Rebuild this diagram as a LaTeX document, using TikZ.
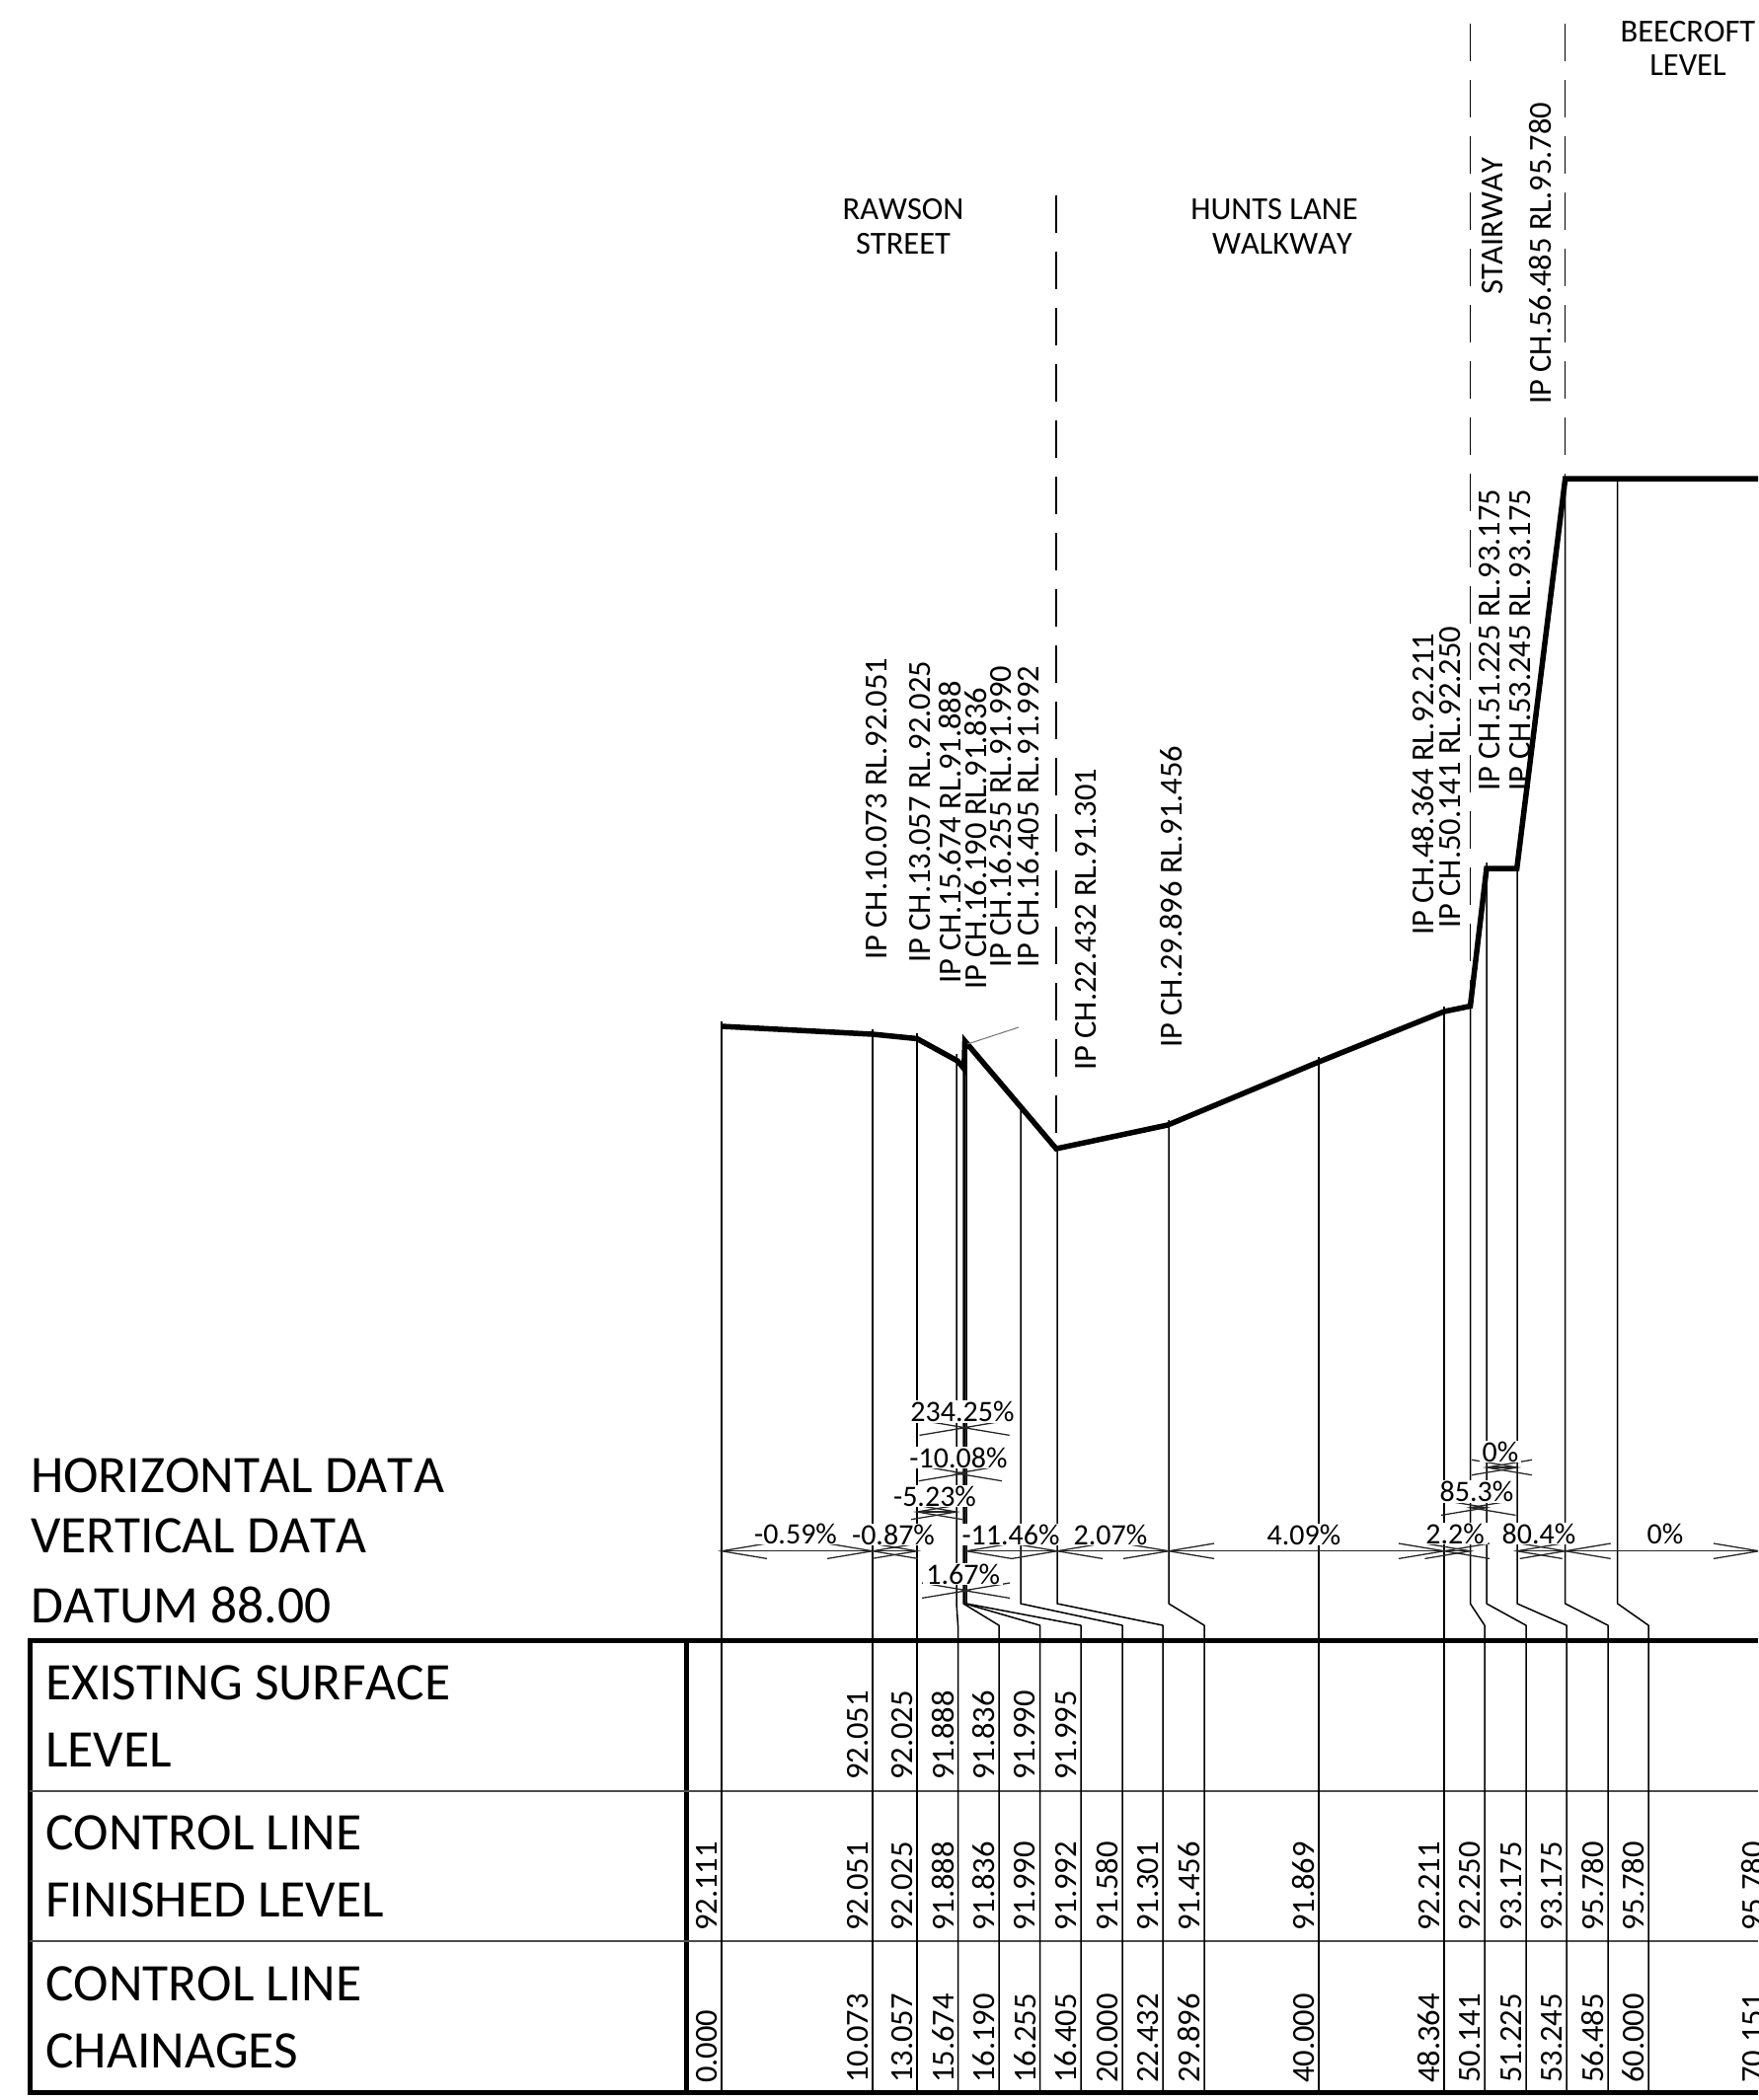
\documentclass[tikz,border=0pt]{standalone}
\usepackage{fontspec}
\setmainfont[Kerning=Off]{Carlito}
\tikzset{
	ipText/.style={rotate=90,anchor=west,inner sep=0pt,font=\fontsize{32.5}{36}\selectfont},
	bigText/.style={anchor=west,inner sep=0pt,font=\fontsize{53.5}{60}\selectfont},
	areaText/.style={inner sep=0pt,font=\fontsize{32.5}{36}\selectfont},
	gradeText/.style={fill=white,inner xsep=3pt,inner ysep=1pt,font=\fontsize{30}{34}\selectfont},
	setLine/.style={line width=1.5pt,line join=bevel},
	dimLine/.style={line width=1.3pt,black!85},
	heavyLine/.style={line width=5pt},
	rowLine/.style={line width=1.5pt,black!70},
	cutLine/.style={line width=1.5pt,dash pattern=on 38pt off 19pt},
}
\begin{document}
\begin{tikzpicture}[x=1pt,y=-1pt]
	\useasboundingbox (0,0) rectangle (1781,2128);
	\clip (0,0) rectangle (1781,2128);
	% table
	\draw[heavyLine] (30,1662) -- (1781,1662);
	\draw[heavyLine] (30,2120) -- (1781,2120);
	\draw[heavyLine] (30,1659.5) -- (30,2122.5);
	\draw[heavyLine] (695,1659.5) -- (695,2122.5);
	\draw[rowLine] (30,1815) -- (1781,1815);
	\draw[rowLine] (30,1967) -- (1781,1967);
	% setout lines
	\foreach \xa/\ya/\xb in {731/1035/731,884/1043/884,929/1047/929,969/1068/970.5,976/1072/1012,977.5/1052/1053.5,979/1060/1095,1034/1120/1137,1071/1164/1178,1184/1135/1220,1336/1071/1336,1463/1020/1463,1489.5/1019/1504,1506/874/1546,1537/880/1587,1585.7/485/1629,1638.7/485/1670}
	{
		\draw[setLine] (\xa,\ya) -- (\xa,1625) -- (\xb,1647) -- (\xb,2120);
	}
	% dashed lines
	\draw[cutLine] (1070,198) -- (1070,1164);
	\draw[cutLine] (1489.5,24) -- (1489.5,1019);
	\draw[cutLine] (1585.7,24) -- (1585.7,485);
	% profile
	\draw[line width=5.5pt,line join=miter,miter limit=6] (731,1040) -- (884,1048) -- (929,1052.5) -- (970,1075) -- (976.7,1083) -- (977.5,1055) -- (1070,1164) -- (1183,1140) -- (1336,1076) -- (1463,1025) -- (1489.5,1019.5) -- (1506,880) -- (1536.7,880) -- (1585.7,485) -- (1781,485);
	\draw[line width=1pt,black!55] (980,1058) -- (1032,1041);
	% grades
	\foreach \xa/\xb/\yd in {731/884/1571.7,884/929/1571.7,979/1071/1571.7,1071/1184/1571.7,1184/1463/1571.7,1463/1489.5/1571.7,1536.7/1585.7/1571.7,1585.7/1782/1571.7,976.7/977.5/1446.7,969/976.7/1493,929/969/1532,977/980/1611.7,1506/1537/1487,1489.5/1506/1527.7}
	{
		\draw[dimLine] (\xa,\yd) -- (\xb,\yd);
		\draw[dimLine] (\xa+46,\yd-7.7) -- (\xa,\yd) -- (\xa+46,\yd+7.7);
		\draw[dimLine] (\xb-46,\yd-7.7) -- (\xb,\yd) -- (\xb-46,\yd+7.7);
	}
	\foreach \x/\y/\t [count=\n] in {806/1554/-0.59\%,905/1555/-0.87\%,1024/1555/-11.46\%,1125/1555/2.07\%,1321/1555/4.09\%,1474/1554/2.2\%,1559/1554/80.4\%,1687/1554/0\%,975/1430.7/234.25\%,971/1477/-10.08\%,947/1516/-5.23\%,975.7/1595/1.67\%,1520/1471/0\%,1496/1511.7/85.3\%}
	{
		\node[gradeText] (grade\n) at (\x,\y) {\t};
	}
	% point labels
	\foreach \x/\y/\t [count=\n] in {888/973/IP CH.10.073 RL.92.051,932/976/IP CH.13.057 RL.92.025,963/996.5/IP CH.15.674 RL.91.888,989/1003/IP CH.16.190 RL.91.836,1014/981/IP CH.16.255 RL.91.990,1042/981/IP CH.16.405 RL.91.992,1100/1085/IP CH.22.432 RL.91.301,1187/1062/IP CH.29.896 RL.91.456,1442/948/IP CH.48.364 RL.92.211,1469/941/IP CH.50.141 RL.92.250,1509/802/IP CH.51.225 RL.93.175,1540/802/IP CH.53.245 RL.93.175,1561/410/IP CH.56.485 RL.95.780,1512/299/STAIRWAY}
	{
		\node[ipText] (ip\n) at (\x,\y) {\t};
	}
	% areas
	\node[areaText] (rawson) at (915,212) {RAWSON};
	\node[areaText] (street) at (915,247) {STREET};
	\node[areaText] (hunts) at (1291,212) {HUNTS LANE};
	\node[areaText] (walkway) at (1299,247) {WALKWAY};
	\node[areaText] (beecroft) at (1710,32) {BEECROFT};
	\node[areaText] (level) at (1710,66.5) {LEVEL};
	% left text
	\node[bigText] (horiz) at (31,1495) {HORIZONTAL DATA};
	\node[bigText] (vert) at (31,1556) {VERTICAL DATA};
	\node[bigText] (datum) at (31,1626) {DATUM 88.00};
	\node[bigText] (exist) at (46,1705) {EXISTING SURFACE};
	\node[bigText] (existb) at (46,1773) {LEVEL};
	\node[bigText] (ctrl) at (46,1857) {CONTROL LINE};
	\node[bigText] (ctrlb) at (46,1925) {FINISHED LEVEL};
	\node[bigText] (chain) at (46,2010) {CONTROL LINE};
	\node[bigText] (chainb) at (46,2078) {CHAINAGES};
	% table values
	\foreach \x/\t [count=\n] in {884/92.051,929/92.025,970.5/91.888,1012/91.836,1053.5/91.990,1095/91.995}
	{
		\node[ipText] (surf\n) at (\x-15,1804) {\t};
	}
	\foreach \x/\t [count=\n] in {731/92.111,884/92.051,929/92.025,970.5/91.888,1012/91.836,1053.5/91.990,1095/91.992,1137/91.580,1178/91.301,1220/91.456,1336/91.869,1463/92.211,1504/92.250,1546/93.175,1587/93.175,1629/95.780,1670/95.780,1791/95.780}
	{
		\node[ipText] (fin\n) at (\x-15,1957) {\t};
	}
	\foreach \x/\t [count=\n] in {731/0.000,884/10.073,929/13.057,970.5/15.674,1012/16.190,1053.5/16.255,1095/16.405,1137/20.000,1178/22.432,1220/29.896,1336/40.000,1463/48.364,1504/50.141,1546/51.225,1587/53.245,1629/56.485,1670/60.000,1791/70.151}
	{
		\node[ipText] (chn\n) at (\x-15,2111) {\t};
	}
\end{tikzpicture}
\end{document}
